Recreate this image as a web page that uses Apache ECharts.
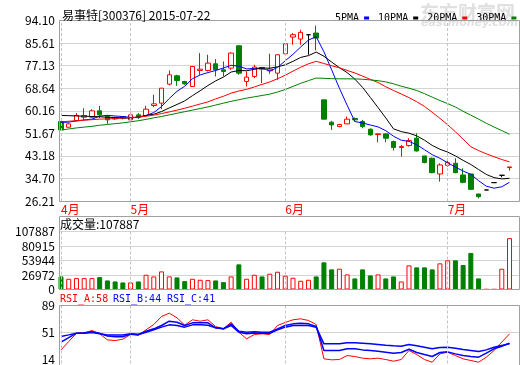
<!DOCTYPE html>
<html><head><meta charset="utf-8">
<script src="https://cdn.jsdelivr.net/npm/echarts@6/dist/echarts.min.js"></script>
<style>html,body{margin:0;padding:0;background:#fff;}#c{width:520px;height:365px;}</style>
</head><body><div id="c"></div>
<script>
const dates = ['2015-04-20','2015-04-21','2015-04-22','2015-04-23','2015-04-24','2015-04-27','2015-04-28','2015-04-29','2015-04-30',
'2015-05-04','2015-05-05','2015-05-06','2015-05-07','2015-05-08','2015-05-11','2015-05-12','2015-05-13','2015-05-14','2015-05-15',
'2015-05-18','2015-05-19','2015-05-20','2015-05-21','2015-05-22','2015-05-25','2015-05-26','2015-05-27','2015-05-28','2015-05-29',
'2015-06-01','2015-06-02','2015-06-03','2015-06-04','2015-06-05','2015-06-08','2015-06-09','2015-06-10','2015-06-11','2015-06-12',
'2015-06-15','2015-06-16','2015-06-17','2015-06-18','2015-06-19','2015-06-23','2015-06-24','2015-06-25','2015-06-26','2015-06-29','2015-06-30',
'2015-07-01','2015-07-02','2015-07-03','2015-07-06','2015-07-07','2015-07-17','2015-07-20','2015-07-21','2015-07-22'];
const monthStarts = ['2015-04-20','2015-05-04','2015-06-01','2015-07-01'];
const monthNames = ['4月','5月','6月','7月'];

const opens = [56.10,53.96,56.47,57.73,57.73,60.12,57.98,57.60,57.98,56.73,58.61,58.36,62.13,63.00,70.16,73.30,71.17,69.28,75.31,75.31,77.82,75.56,76.19,84.60,71.17,73.05,76.44,75.19,74.31,81.59,87.87,87.12,88.75,89.38,64.26,55.85,54.21,55.22,57.23,56.10,53.21,51.20,51.45,48.56,46.30,47.06,49.82,43.16,42.28,36.38,39.65,40.40,36.00,36.38,28.85,30.35,33.12,35.88,38.77];
const closes = [52.96,55.22,58.36,58.36,60.12,58.61,56.73,57.10,57.35,58.61,57.98,60.74,62.75,68.65,73.68,71.54,70.29,76.82,75.81,78.07,75.56,74.93,81.84,74.30,72.80,76.57,75.81,75.81,81.21,85.36,88.75,89.63,88.75,87.49,56.98,54.84,54.97,56.98,56.73,54.21,51.07,51.45,49.82,46.30,46.68,48.94,45.05,40.65,36.88,39.77,40.65,36.88,33.24,30.60,27.84,30.35,33.12,35.88,39.02];
const highs = [56.30,55.72,59.24,61.12,60.74,62.00,58.61,57.85,58.10,59.49,59.24,62.00,66.14,68.65,75.31,73.68,71.40,76.82,81.84,81.21,79.58,78.70,82.10,84.60,74.93,77.45,76.44,81.59,81.21,85.36,89.38,90.63,88.75,92.14,64.26,56.35,55.22,57.98,57.60,56.73,53.46,51.70,51.70,48.94,47.31,49.82,51.70,43.16,42.54,40.40,42.28,42.28,38.52,36.38,28.85,30.35,33.12,35.88,39.02];
const lows = [52.90,53.80,56.30,56.73,57.50,57.35,55.22,56.73,56.90,56.60,57.10,57.98,61.50,60.74,69.66,69.53,69.90,69.28,73.68,74.93,73.05,73.05,75.56,73.68,69.28,72.42,70.54,74.06,71.80,81.59,84.98,84.98,81.21,82.85,56.98,52.96,53.96,55.22,56.10,53.59,50.82,48.31,48.31,45.17,42.91,46.68,44.80,40.40,36.63,33.49,39.14,36.63,32.87,30.35,27.21,30.35,33.12,35.13,37.64];

const ma5 = [55.7,55.9,56.3,56.7,57.0,58.13,58.44,58.18,57.98,57.68,57.55,58.36,59.49,61.75,64.76,67.47,69.38,72.20,73.63,74.51,75.31,76.24,77.24,76.94,75.89,76.09,76.26,75.06,76.44,78.95,81.39,84.15,86.74,88.00,82.32,75.54,68.61,62.25,56.10,55.55,54.79,54.09,52.66,50.57,49.06,48.64,47.36,45.52,43.64,42.26,40.60,38.97,37.48,36.23,33.84,31.78,31.03,31.56,33.24];
const ma10 = [58.4,58.3,58.2,58.1,58.0,57.9,57.7,57.6,57.5,57.34,57.84,58.40,58.84,59.86,61.22,62.51,63.87,65.84,67.69,69.63,71.39,72.81,74.72,75.28,75.20,75.70,76.25,76.15,76.69,77.42,78.74,80.21,80.90,82.22,80.64,78.46,76.38,74.50,72.05,68.93,65.17,61.35,57.45,53.34,52.31,51.72,50.72,49.09,47.11,45.66,44.62,43.16,41.50,39.93,38.05,36.19,35.00,34.52,34.74];
const ma20 = [56.0,56.2,56.4,56.6,56.8,57.0,57.1,57.2,57.4,57.6,57.8,58.1,58.5,59.1,59.7,60.4,61.1,61.9,62.7,63.49,64.62,65.60,66.78,67.57,68.21,69.11,70.06,71.00,72.19,73.53,75.06,76.51,77.81,78.75,77.92,77.08,76.32,75.32,74.37,73.18,71.95,70.78,69.18,67.78,66.47,65.09,63.55,61.79,59.58,57.30,54.89,52.25,49.48,46.63,45.18,43.95,42.86,41.81,40.92];
const ma30 = [52.9,53.3,53.7,54.0,54.3,54.7,55.0,55.3,55.6,56.0,56.4,56.9,57.5,58.0,58.6,59.2,59.8,60.4,61.0,61.6,62.3,63.0,63.7,64.3,64.9,65.4,65.9,66.4,67.2,68.13,69.32,70.47,71.48,72.46,72.35,72.23,72.17,72.16,72.14,72.00,71.76,71.46,71.02,70.28,69.38,68.63,67.78,66.58,65.28,64.00,62.84,61.57,59.95,58.50,57.00,55.46,54.03,52.70,51.30];

const volumes = [24300,19950,21200,21200,21200,23070,16840,14970,13100,13100,14970,27440,24320,33670,24320,22450,15590,19950,18080,17460,16840,13720,24320,46770,19950,27440,24320,29310,33050,25570,21830,16210,18080,24320,50510,37420,38660,28060,20580,37420,26190,28060,20580,24320,14970,44900,41160,41160,37420,48640,54250,54250,45520,67970,20580,500,500,38660,95530];

const rsiA = [31.4,42.3,53.2,53.7,56.7,52.4,44.5,43.6,45.4,51.5,50.2,57.6,64.6,75.0,79.4,73.3,63.7,70.7,68.9,70.7,61.9,58.9,67.6,54.5,45.8,51.5,52.4,51.5,63.3,67.2,70.7,72.0,69.8,64.6,19.7,18.4,18.8,24.0,22.7,20.6,19.7,20.6,18.8,16.6,18.8,30.6,25.3,18.8,15.3,26.2,28.4,24.0,19.7,17.5,15.3,21.9,30.6,41.5,52.4];
const rsiB = [41.5,47.5,53.2,53.5,55.0,53.0,49.5,48.5,48.5,52.0,51.5,55.8,58.9,63.3,68.9,67.5,63.3,66.7,66.7,66.7,60.2,59.0,65.4,55.8,54.5,55.0,54.5,54.5,58.9,63.3,65.4,66.3,65.4,61.9,30.6,30.6,30.6,32.8,32.8,31.4,30.6,29.7,28.4,27.1,28.0,32.3,28.0,25.3,22.7,28.0,28.8,26.2,24.0,22.7,21.9,27.1,32.8,36.2,40.2];
const rsiC = [48.9,51.0,53.2,53.2,54.0,52.4,51.0,51.0,51.0,52.4,51.5,54.5,57.6,61.1,64.1,63.3,61.1,64.1,64.1,63.5,60.2,59.0,63.3,54.5,52.4,53.6,53.2,53.2,57.6,61.1,63.3,63.3,63.3,61.1,39.3,39.3,39.3,40.6,40.6,40.2,39.3,38.4,37.5,36.7,36.2,38.4,36.7,34.9,32.8,34.5,34.9,33.6,31.9,30.6,29.3,31.4,34.9,37.1,39.3];

const mainTicks = ['26.21','34.70','43.18','51.67','60.16','68.64','77.13','85.61','94.10'];
const volTicks = ['0','26972','53944','80915','107887'];
const rsiTicks = ['14','51','89'];

const CJK = '"Noto Sans CJK SC", sans-serif';
const MONO = '"DejaVu Sans Mono", monospace';
const RED = '#ff0000', GREEN = '#008000', BLUE = '#0000ff';
const GRIDC = '#d4d4d4', FRAMEC = '#a0a0a0';

const candleData = dates.map((d, i) => [opens[i], closes[i], lows[i], highs[i]]);
const volData = volumes.map((v, i) => {
  const up = closes[i] >= opens[i];
  return { value: v, itemStyle: up ? { color: '#ffffff', borderColor: RED, borderWidth: 1 } : { color: GREEN, borderColor: GREEN, borderWidth: 1 } };
});

const monthLine = {
  silent: true, symbol: ['none', 'none'], label: { show: false },
  lineStyle: { color: '#c4c4c4', type: [3, 2], width: 1 },
  emphasis: { disabled: true },
  data: monthStarts.map(d => ({ xAxis: d }))
};

const DL = 57.13, DW = 456.26, FL = 59, FW = 460;
const panels = [
  { top: 20.5, height: 180.5 },
  { top: 231.5, height: 58 },
  { top: 305.5, height: 58 }
];
const grids = [];
panels.forEach(p => {
  grids.push({ left: FL, width: FW, top: p.top, height: p.height });
  grids.push({ left: DL, width: DW, top: p.top, height: p.height });
});

function labelAxis(gi, ticks, lineColors) {
  return {
    gridIndex: gi, type: 'value', min: 0, max: ticks.length - 1, interval: 1, position: 'left',
    axisLine: { show: false }, axisTick: { show: false },
    axisLabel: { formatter: v => ticks[v], margin: 4, color: '#000', fontSize: 12, fontFamily: CJK },
    splitLine: { show: true, lineStyle: { color: lineColors || GRIDC, width: 1 } }
  };
}
function hiddenX(gi) { return { gridIndex: gi, type: 'value', min: 0, max: 1, show: false }; }
function catX(gi, labels) {
  return {
    gridIndex: gi, type: 'category', data: dates, boundaryGap: true,
    axisLine: { show: false }, axisTick: { show: false }, splitLine: { show: false },
    axisLabel: labels ? {
      show: true, interval: (i, v) => monthStarts.indexOf(v) >= 0,
      formatter: v => monthNames[monthStarts.indexOf(v)],
      color: RED, fontSize: 12, fontFamily: CJK, align: 'left', margin: 2
    } : { show: false }
  };
}

const option = {
  animation: false,
  backgroundColor: '#ffffff',
  grid: grids,
  xAxis: [hiddenX(0), catX(1, true), hiddenX(2), catX(3, false), hiddenX(4), catX(5, false)],
  yAxis: [
    labelAxis(0, mainTicks),
    { gridIndex: 1, type: 'value', min: 26.21, max: 94.10, show: false },
    labelAxis(2, volTicks),
    { gridIndex: 3, type: 'value', min: 0, max: 107887, show: false },
    labelAxis(4, rsiTicks, ['rgba(0,0,0,0)', GRIDC, GRIDC]),
    { gridIndex: 5, type: 'value', min: 13.6, max: 89.4, show: false }
  ],
  legend: {
    data: ['5PMA', '10PMA', '20PMA', '30PMA'], left: 330, top: 8, width: 260, align: 'right',
    icon: 'rect', itemWidth: 5, itemHeight: 3, itemGap: 9, selectedMode: false,
    textStyle: { fontFamily: MONO, fontSize: 10, color: '#000' }
  },
  graphic: [
    { type: 'text', x: 420, y: 3, z: 0, silent: true, style: { text: '东方财富网', font: 'bold 19px ' + CJK, fill: '#e0e0e0' } },
    { type: 'text', x: 421, y: 18, z: 0, silent: true, style: { text: 'eastmoney.com', font: 'bold italic 11px "DejaVu Sans", sans-serif', fill: '#e0e0e0' } },
    { type: 'rect', z: 10, silent: true, shape: { x: 59.5, y: 20.5, width: 460, height: 181 }, style: { fill: 'none', stroke: FRAMEC, lineWidth: 1 } },
    { type: 'rect', z: 10, silent: true, shape: { x: 59.5, y: 216.5, width: 460, height: 73 }, style: { fill: 'none', stroke: FRAMEC, lineWidth: 1 } },
    { type: 'rect', z: 10, silent: true, shape: { x: 59.5, y: 305.5, width: 460, height: 70 }, style: { fill: 'none', stroke: FRAMEC, lineWidth: 1 } },
    { type: 'text', x: 62, y: 9, z: 20, silent: true, style: { text: '易事特[300376] 2015-07-22', font: '12px ' + CJK, fill: '#000' } },
    { type: 'text', x: 60, y: 218, z: 20, silent: true, style: { text: '成交量:107887', font: '12px ' + CJK, fill: '#000' } },
    { type: 'text', x: 60, y: 294, z: 20, silent: true, style: { text: 'RSI_A:58', font: '10px ' + MONO, fill: RED } },
    { type: 'text', x: 113, y: 294, z: 20, silent: true, style: { text: 'RSI_B:44', font: '10px ' + MONO, fill: BLUE } },
    { type: 'text', x: 167, y: 294, z: 20, silent: true, style: { text: 'RSI_C:41', font: '10px ' + MONO, fill: BLUE } }
  ],
  series: [
    {
      type: 'candlestick', name: 'K', xAxisIndex: 1, yAxisIndex: 1, data: candleData, barWidth: 5,
      itemStyle: { color: '#ffffff', color0: GREEN, borderColor: RED, borderColor0: GREEN, borderColorDoji: '#000000', borderWidth: 1 },
      markLine: monthLine
    },
    { type: 'line', name: '5PMA', xAxisIndex: 1, yAxisIndex: 1, data: ma5, symbol: 'none', lineStyle: { width: 1, color: BLUE }, itemStyle: { color: BLUE } },
    { type: 'line', name: '10PMA', xAxisIndex: 1, yAxisIndex: 1, data: ma10, symbol: 'none', lineStyle: { width: 1, color: '#000000' }, itemStyle: { color: '#000000' } },
    { type: 'line', name: '20PMA', xAxisIndex: 1, yAxisIndex: 1, data: ma20, symbol: 'none', lineStyle: { width: 1, color: RED }, itemStyle: { color: RED } },
    { type: 'line', name: '30PMA', xAxisIndex: 1, yAxisIndex: 1, data: ma30, symbol: 'none', lineStyle: { width: 1, color: GREEN }, itemStyle: { color: GREEN } },
    { type: 'bar', name: 'VOL', xAxisIndex: 3, yAxisIndex: 3, data: volData, barWidth: 5, markLine: monthLine },
    { type: 'line', name: 'RSI_A', xAxisIndex: 5, yAxisIndex: 5, data: rsiA, symbol: 'none', lineStyle: { width: 1, color: RED }, markLine: monthLine },
    { type: 'line', name: 'RSI_B', xAxisIndex: 5, yAxisIndex: 5, data: rsiB, symbol: 'none', lineStyle: { width: 1.5, color: BLUE } },
    { type: 'line', name: 'RSI_C', xAxisIndex: 5, yAxisIndex: 5, data: rsiC, symbol: 'none', lineStyle: { width: 1.5, color: BLUE } }
  ]
};
const chart = echarts.init(document.getElementById('c'), null, { renderer: 'canvas' });
chart.setOption(option);
</script>
</body></html>
